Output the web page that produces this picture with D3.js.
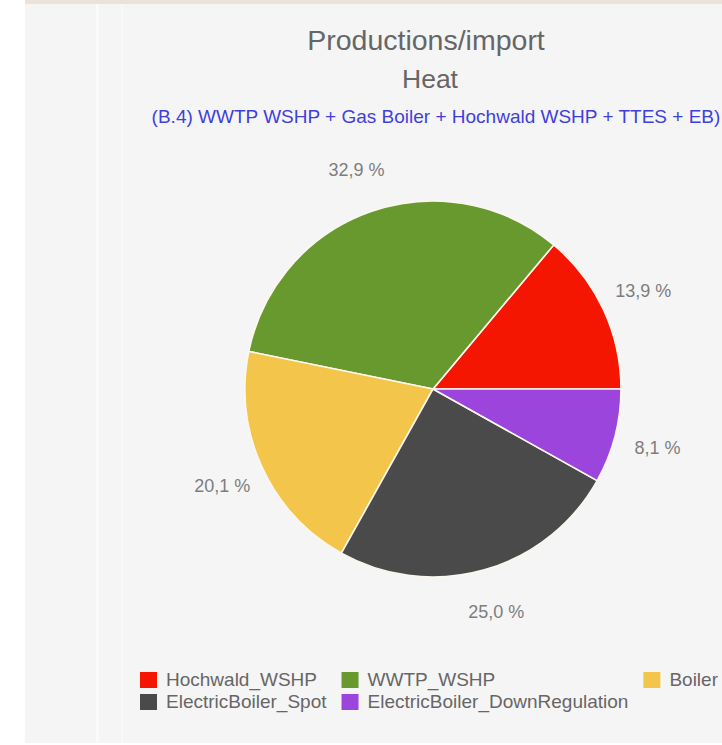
<!DOCTYPE html>
<html lang="en">
<head>
    <meta charset="UTF-8">
    <title>Productions/import Heat</title>
    <script src="https://d3js.org/d3.v7.min.js"></script>
    <style>
        html, body { margin: 0; padding: 0; background: #ffffff; }
        svg { display: block; font-family: "Liberation Sans", Arial, sans-serif; }
    </style>
</head>
<body>
    <script>
    // Share of heat production per unit (percent)
    const units = ["Hochwald_WSHP", "WWTP_WSHP", "Boiler", "ElectricBoiler_Spot", "ElectricBoiler_DownRegulation"];
    const shares = [13.9, 32.9, 20.1, 25.0, 8.1];
    const colors = ["#f41600", "#68992f", "#f3c54b", "#4a4a4a", "#9c45dd"];

    const title = "Productions/import";
    const subtitleLine = "Heat";
    const scenario = "(B.4) WWTP WSHP + Gas Boiler + Hochwald WSHP + TTES + EB)";

    const width = 722, height = 745;
    const cx = 433, cy = 389, radius = 188, labelRadius = 232;

    const svg = d3.select("body").append("svg")
        .attr("width", width)
        .attr("height", height);

    // page background: panel + thin beige band on top
    svg.append("rect").attr("x", 25).attr("y", 0).attr("width", width - 25).attr("height", 743)
        .attr("fill", "#f6f5f6");
    svg.append("rect").attr("x", 25).attr("y", 0).attr("width", width - 25).attr("height", 4)
        .attr("fill", "#ebe2d9");
    svg.append("rect").attr("x", 96).attr("y", 4).attr("width", 3).attr("height", 739)
        .attr("fill", "#fbfafb");
    svg.append("rect").attr("x", 121).attr("y", 4).attr("width", 2).attr("height", 739)
        .attr("fill", "#f9f8f9");

    // titles
    svg.append("text").attr("x", 426).attr("y", 50)
        .attr("text-anchor", "middle").attr("font-size", 28.5).attr("fill", "#666")
        .text(title);
    svg.append("text").attr("x", 430).attr("y", 88)
        .attr("text-anchor", "middle").attr("font-size", 26.5).attr("fill", "#666")
        .text(subtitleLine);
    svg.append("text").attr("x", 436).attr("y", 123)
        .attr("text-anchor", "middle").attr("font-size", 19).attr("fill", "#3f3fdc")
        .text(scenario);

    // pie starts at 3 o'clock and runs counter-clockwise
    const pie = d3.pie()
        .sort(null)
        .value(d => d)
        .startAngle(Math.PI / 2)
        .endAngle(Math.PI / 2 - 2 * Math.PI);

    const arc = d3.arc().innerRadius(0).outerRadius(radius);
    const arcs = pie(shares);

    const g = svg.append("g").attr("transform", `translate(${cx},${cy})`);

    g.selectAll("path")
        .data(arcs)
        .enter().append("path")
        .attr("d", arc)
        .attr("fill", (d, i) => colors[i])
        .attr("stroke", "#fbf7ee")
        .attr("stroke-width", 1.6);

    const fmt = v => d3.format(".1f")(v).replace(".", ",") + " %";

    g.selectAll("text.lbl")
        .data(arcs)
        .enter().append("text")
        .attr("class", "lbl")
        .attr("x", d => Math.sin((d.startAngle + d.endAngle) / 2) * labelRadius)
        .attr("y", d => -Math.cos((d.startAngle + d.endAngle) / 2) * labelRadius)
        .attr("dy", "0.35em")
        .attr("text-anchor", "middle")
        .attr("font-size", 18)
        .attr("fill", "#7d7d7d")
        .text(d => fmt(d.data));

    // legend: 3 columns, row-major, column width from widest text
    const nCols = 3, sw = 17, swGap = 9, colPad = 15, rowH = 22;
    const legendX = 140, legendY = 672;

    const legend = svg.append("g").attr("class", "legend");
    const items = legend.selectAll("g")
        .data(units)
        .enter().append("g");

    items.append("rect")
        .attr("width", sw).attr("height", 16)
        .attr("fill", (d, i) => colors[i]);

    items.append("text")
        .attr("x", sw + swGap).attr("y", 14)
        .attr("font-size", 19)
        .attr("fill", "#666")
        .text(d => d);

    const textW = items.select("text").nodes().map(n => n.getComputedTextLength());
    const colW = d3.range(nCols).map(c =>
        d3.max(textW.filter((w, i) => i % nCols === c)) + sw + swGap + colPad);
    const colX = colW.map((w, c) => legendX + d3.sum(colW.slice(0, c)));

    items.attr("transform", (d, i) =>
        `translate(${colX[i % nCols]},${legendY + Math.floor(i / nCols) * rowH})`);
    </script>
</body>
</html>
